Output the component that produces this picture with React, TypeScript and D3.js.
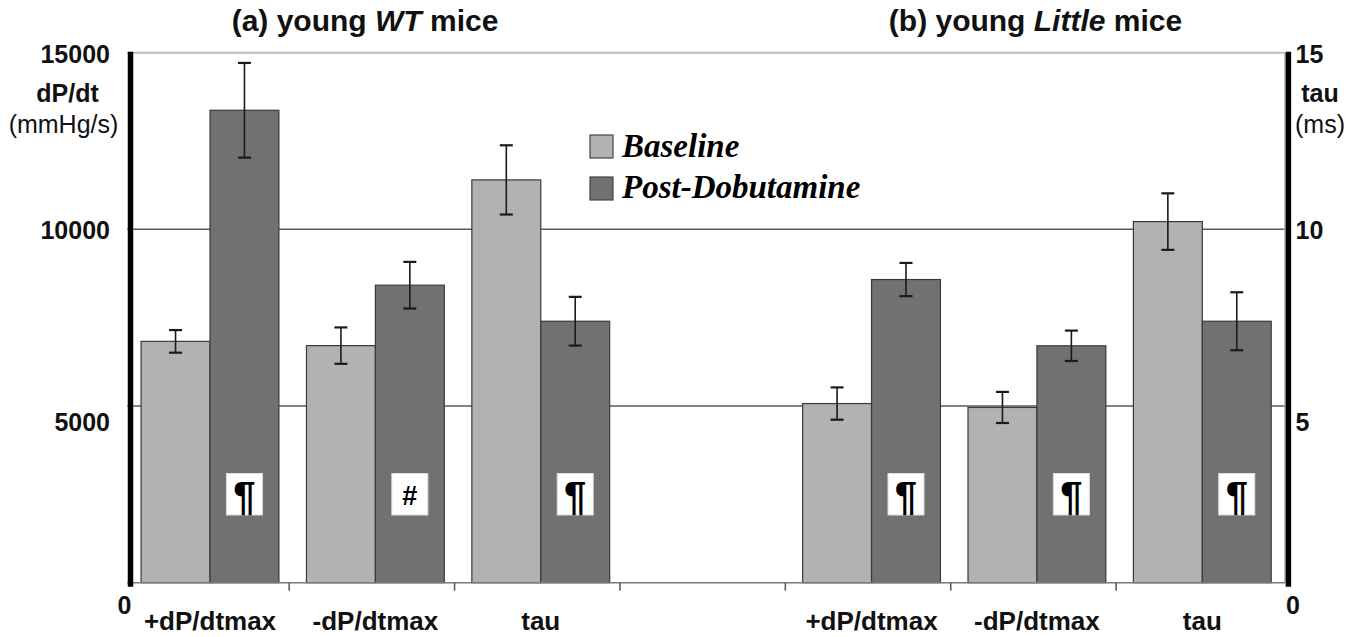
import React from "react";
import * as d3 from "d3";

const categories = ["+dP/dtmax", "-dP/dtmax", "tau", "", "+dP/dtmax", "-dP/dtmax", "tau"];
const axisSide = ["left", "left", "right", null, "left", "left", "right"];
const baselineValues = [6830, 6710, 11.4, null, 5070, 4960, 10.22];
const baselineErrors = [320, 515, 0.98, null, 457, 440, 0.8];
const postValues = [13370, 8420, 7.4, null, 8580, 6705, 7.4];
const postErrors = [1340, 660, 0.69, null, 470, 430, 0.82];
const significance = ["¶", "#", "¶", null, "¶", "¶", "¶"];
const leftTicks = [0, 5000, 10000, 15000];
const rightTicks = [0, 5, 10, 15];
const gridValues = [5000, 10000];
const seriesNames = ["Baseline", "Post-Dobutamine"];

const W = 1363;
const H = 637;
const plotLeft = 127.3;
const plotRight = 1285;
const plotTop = 52.7;
const plotBottom = 582.7;
const baseColor = "#b2b2b2";
const postColor = "#717171";
const SANS = "'Liberation Sans', Arial, Helvetica, sans-serif";
const NARROW = "'Liberation Sans Narrow', 'Arial Narrow', 'Liberation Sans', Arial, sans-serif";
const SERIF = "'Liberation Serif', 'Times New Roman', serif";

export default function App() {
  const yLeft = d3.scaleLinear().domain([0, 15000]).range([plotBottom, plotTop]);
  const yRight = d3.scaleLinear().domain([0, 15]).range([plotBottom, plotTop]);
  const x = d3
    .scaleBand<number>()
    .domain(categories.map((_, i) => i))
    .range([plotLeft, plotRight])
    .padding(0);
  const bw = x.bandwidth();
  const sub = d3
    .scaleBand<string>()
    .domain(["base", "post"])
    .range([0, bw])
    .paddingInner(0)
    .paddingOuter(0.2);
  const sbw = sub.bandwidth();

  const leftLabelOffset: Record<number, number> = { 0: 22, 5000: 16, 10000: 1, 15000: 1.5 };
  const rightLabelOffset: Record<number, number> = { 0: 22, 5: 16, 10: 1, 15: 1.5 };

  const bars: any[] = [];
  categories.forEach((c, i) => {
    if (axisSide[i] === null) return;
    const y = axisSide[i] === "left" ? yLeft : yRight;
    const x0 = x(i)!;
    [
      { key: "base", v: baselineValues[i]!, e: baselineErrors[i]!, color: baseColor },
      { key: "post", v: postValues[i]!, e: postErrors[i]!, color: postColor },
    ].forEach((b) => {
      const bx = x0 + sub(b.key)!;
      bars.push({ i, key: b.key, x: bx, w: sbw, top: y(b.v), bottom: y(0), eTop: y(b.v + b.e), eBot: y(b.v - b.e), color: b.color });
    });
  });

  const tickXs = categories.slice(1).map((_, i) => x(i + 1)!);

  return (
    <svg width={W} height={H} style={{ position: "absolute", left: 0, top: 0, background: "#fff" }}>
      <rect x={0} y={0} width={W} height={H} fill="#fff" />
      {/* top border */}
      <line x1={plotLeft} x2={plotRight} y1={plotTop} y2={plotTop} stroke="#bdbdbd" strokeWidth={2} />
      {/* gridlines */}
      {gridValues.map((g) => (
        <line key={g} x1={plotLeft} x2={plotRight} y1={yLeft(g)} y2={yLeft(g)} stroke="#5a5a5a" strokeWidth={1.5} />
      ))}
      {/* right plot border thin */}
      <line x1={plotRight} x2={plotRight} y1={plotTop} y2={plotBottom} stroke="#aaa" strokeWidth={1.5} />
      {/* bars */}
      {bars.map((b, k) => (
        <rect key={k} x={b.x} y={b.top} width={b.w} height={b.bottom - b.top} fill={b.color} stroke="#3a3a3a" strokeWidth={1.2} />
      ))}
      {/* error bars */}
      {bars.map((b, k) => {
        const cx = b.x + b.w / 2;
        return (
          <g key={"e" + k} stroke="#1a1a1a" strokeWidth={1.6}>
            <line x1={cx} x2={cx} y1={b.eTop} y2={b.eBot} />
            <line x1={cx - 6.5} x2={cx + 6.5} y1={b.eTop} y2={b.eTop} strokeWidth={2.2} />
            <line x1={cx - 6.5} x2={cx + 6.5} y1={b.eBot} y2={b.eBot} strokeWidth={2.2} />
          </g>
        );
      })}
      {/* significance boxes */}
      {bars
        .filter((b) => b.key === "post")
        .map((b, k) => {
          const cx = b.x + b.w / 2;
          const s = significance[b.i];
          return (
            <g key={"s" + k}>
              <rect x={cx - 18} y={473.5} width={36} height={41.5} fill="#fff" stroke="#ddd" strokeWidth={1} />
              {s === "#" ? (
                <text x={cx} y={505} textAnchor="middle" fontFamily={SANS} fontWeight="bold" fontSize={27} fill="#000">
                  {s}
                </text>
              ) : (
                <text x={cx} y={510} textAnchor="middle" fontFamily={NARROW} fontWeight="bold" fontSize={40} fill="#000">
                  {s}
                </text>
              )}
            </g>
          );
        })}
      {/* x axis line */}
      <line x1={plotLeft} x2={plotRight} y1={plotBottom} y2={plotBottom} stroke="#7a7a7a" strokeWidth={1.5} />
      {tickXs.map((tx, k) => (
        <line key={"t" + k} x1={tx - 3.5} x2={tx - 3.5} y1={plotBottom} y2={plotBottom + 8} stroke="#555" strokeWidth={1.5} />
      ))}
      {/* thick axes */}
      <line x1={plotLeft + 3.2} x2={plotLeft + 3.2} y1={plotTop - 1} y2={plotBottom + 4} stroke="#000" strokeWidth={5.5} />
      <line x1={plotRight + 3.4} x2={plotRight + 3.4} y1={plotTop - 1} y2={plotBottom + 4} stroke="#000" strokeWidth={5.5} />
      {/* left tick labels */}
      {leftTicks.map((t) => (
        <text
          key={"l" + t}
          x={t === 0 ? 124.5 : 110}
          y={yLeft(t) + leftLabelOffset[t]}
          dy="0.36em"
          textAnchor={t === 0 ? "middle" : "end"}
          fontFamily={SANS}
          fontWeight="bold"
          fontSize={25}
          fill="#111"
        >
          {t}
        </text>
      ))}
      {rightTicks.map((t) => (
        <text
          key={"r" + t}
          x={t === 0 ? 1293 : 1295.5}
          y={yRight(t) + rightLabelOffset[t]}
          dy="0.36em"
          textAnchor={t === 0 ? "middle" : "start"}
          fontFamily={SANS}
          fontWeight="bold"
          fontSize={25}
          fill="#111"
        >
          {t}
        </text>
      ))}
      {/* axis titles */}
      <text x={67.5} y={101.5} textAnchor="middle" fontFamily={SANS} fontWeight="bold" fontSize={25} fill="#111">
        dP/dt
      </text>
      <text x={63.5} y={133} textAnchor="middle" fontFamily={SANS} fontSize={25} fill="#111">
        (mmHg/s)
      </text>
      <text x={1320} y={101.5} textAnchor="middle" fontFamily={SANS} fontWeight="bold" fontSize={25} fill="#111">
        tau
      </text>
      <text x={1320} y={133} textAnchor="middle" fontFamily={SANS} fontSize={25} fill="#111">
        (ms)
      </text>
      {/* category labels */}
      {categories.map((c, i) =>
        c ? (
          <text key={"c" + i} x={x(i)! + bw / 2} y={630} textAnchor="middle" fontFamily={SANS} fontWeight="bold" fontSize={26} fill="#111">
            {c}
          </text>
        ) : null
      )}
      {/* titles */}
      <text x={365} y={31} textAnchor="middle" fontFamily={SANS} fontWeight="bold" fontSize={30} fill="#111">
        <tspan>(a) young </tspan>
        <tspan fontStyle="italic">WT</tspan>
        <tspan> mice</tspan>
      </text>
      <text x={1035.5} y={31} textAnchor="middle" fontFamily={SANS} fontWeight="bold" fontSize={30} fill="#111">
        <tspan>(b) young </tspan>
        <tspan fontStyle="italic">Little</tspan>
        <tspan> mice</tspan>
      </text>
      {/* legend */}
      {seriesNames.map((s, k) => (
        <g key={"lg" + k}>
          <rect x={590} y={135 + k * 42} width={23} height={23} fill={k === 0 ? baseColor : postColor} stroke="#444" strokeWidth={1.2} />
          <text x={622} y={157 + k * 41} fontFamily={SERIF} fontWeight="bold" fontStyle="italic" fontSize={33} fill="#000">
            {s}
          </text>
        </g>
      ))}
    </svg>
  );
}
